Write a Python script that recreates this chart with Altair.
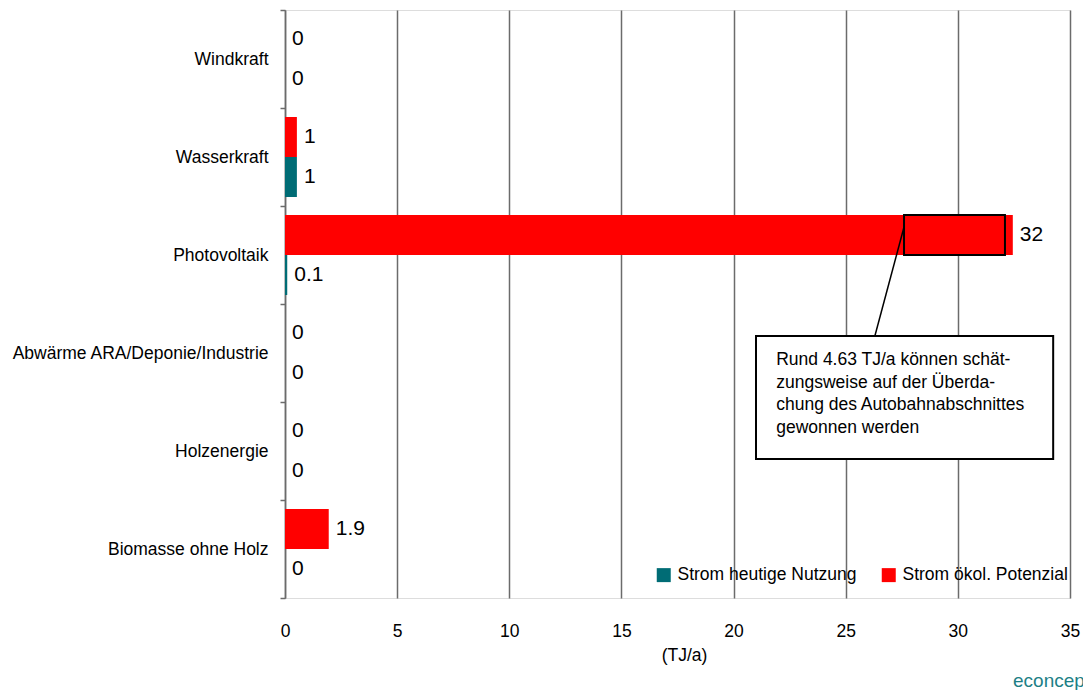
import altair as alt
import pandas as pd

# ---------------- data ----------------
categories = ["Windkraft", "Wasserkraft", "Photovoltaik",
              "Abwärme ARA/Deponie/Industrie", "Holzenergie", "Biomasse ohne Holz"]
series_in_band = ["Strom ökol. Potenzial", "Strom heutige Nutzung"]   # top, bottom
legend_order = ["Strom heutige Nutzung", "Strom ökol. Potenzial"]
heutige = [0, 0.53, 0.1, 0, 0, 0]
potenzial = [0, 0.53, 32.45, 0, 0, 1.95]
heutige_labels = ["0", "1", "0.1", "0", "0", "0"]
potenzial_labels = ["0", "1", "32", "0", "0", "1.9"]
colors = ["#006C75", "#FF0000"]
x_ticks = [0, 5, 10, 15, 20, 25, 30, 35]

# annotation (in TJ/a units along x)
highlight_start = [27.6]
highlight_end = [32.1]
note_lines = ["Rund 4.63 TJ/a können schät-",
              "zungsweise auf der Überda-",
              "chung des Autobahnabschnittes",
              "gewonnen werden"]
note_box_x = [21.0, 34.25]
note_text_x = [21.9]
connector_x = [27.6, 26.3]
brand = ["econcept"]

rows = []
for c, h, p, hl, pl in zip(categories, heutige, potenzial, heutige_labels, potenzial_labels):
    rows.append({"Kategorie": c, "Serie": "Strom ökol. Potenzial", "Wert": p, "Label": pl})
    rows.append({"Kategorie": c, "Serie": "Strom heutige Nutzung", "Wert": h, "Label": hl})
df = pd.DataFrame(rows)

FONT = "Liberation Sans, Arial, sans-serif"
FS = 17.5
GRID = "#6b6b6b"

x_scale = alt.Scale(domain=[0, 35], nice=False, zero=True)
x_axis = alt.Axis(values=x_ticks, title="(TJ/a)", grid=True, gridColor=GRID, gridWidth=1.5,
                  domain=False, ticks=False, labelPadding=24, labelFont=FONT,
                  labelFontSize=FS, labelColor="#000", labelFlush=False, labelOverlap=False,
                  titleFont=FONT, titleFontSize=FS,
                  titleFontWeight="normal", titleColor="#000", titlePadding=7, titleX=399)


def xq(field):
    return alt.X(field, type="quantitative", scale=x_scale, axis=x_axis)


y_enc = alt.Y("Kategorie:N", sort=categories,
              scale=alt.Scale(paddingInner=0, paddingOuter=0),
              axis=alt.Axis(title=None, tickBand="extent", domainColor=GRID, domainWidth=1.5,
                            tickColor=GRID, tickWidth=1.5, tickSize=5, labelPadding=12,
                            labelFont=FONT, labelFontSize=FS, labelColor="#000",
                            labelLimit=400, grid=False))
yoff = alt.YOffset("Serie:N", sort=series_in_band,
                   scale=alt.Scale(paddingInner=0, paddingOuter=0.225))

bars = alt.Chart(df).mark_bar().encode(
    y=y_enc, yOffset=yoff, x=xq("Wert"),
    color=alt.Color("Serie:N", sort=legend_order,
                    scale=alt.Scale(domain=legend_order, range=colors),
                    legend=alt.Legend(title=None, orient="none", legendX=370, legendY=556,
                                      direction="horizontal", symbolType="square",
                                      symbolSize=196, symbolStrokeWidth=0, labelFont=FONT,
                                      labelFontSize=FS, labelColor="#000", labelOffset=5,
                                      labelLimit=400, columnPadding=23, padding=0,
                                      symbolOpacity=1)))

labels = alt.Chart(df).mark_text(align="left", baseline="middle", dx=7, font=FONT,
                                 fontSize=21, color="#000").encode(
    y=y_enc, yOffset=yoff, x=xq("Wert"), text="Label:N")

df_hl = pd.DataFrame({"Kategorie": ["Photovoltaik"], "Serie": ["Strom ökol. Potenzial"],
                      "Wert": highlight_start, "Wert2": highlight_end})
highlight = alt.Chart(df_hl).mark_bar(fillOpacity=0, stroke="#000", strokeWidth=2).encode(
    y=y_enc, yOffset=yoff, x=xq("Wert"), x2="Wert2")

df_line = pd.DataFrame({"Wert": [connector_x[0]], "Wert2": [connector_x[1]]})
connector = alt.Chart(df_line).mark_rule(color="#000", strokeWidth=1.5).encode(
    x=xq("Wert"), x2="Wert2", y=alt.value(217), y2=alt.value(326))

df_box = pd.DataFrame({"Wert": [note_box_x[0]], "Wert2": [note_box_x[1]]})
box = alt.Chart(df_box).mark_rect(fill="#fff", stroke="#000", strokeWidth=2).encode(
    x=xq("Wert"), x2="Wert2", y=alt.value(326), y2=alt.value(449))

df_note = pd.DataFrame({"Wert": note_text_x})
note = alt.Chart(df_note).mark_text(align="left", baseline="top", font=FONT, fontSize=FS,
                                    lineHeight=22.5, color="#000", text=note_lines).encode(
    x=xq("Wert"), y=alt.value(341))

df_brand = pd.DataFrame({"t": brand})
brand_txt = alt.Chart(df_brand).mark_text(align="left", baseline="alphabetic", font=FONT,
                                          fontSize=19, color="#1d7f86").encode(
    x=alt.value(728), y=alt.value(677), text="t:N")

chart = alt.layer(bars, labels, highlight, connector, box, note, brand_txt).properties(
    width=785, height=588,
    autosize=alt.AutoSizeParams(type="none"),
    padding={"left": 285, "top": 10, "right": 13, "bottom": 92},
).configure_view(stroke=None).configure(background="#ffffff")

chart.save("out.html", embed_options={"renderer": "svg", "actions": False})
